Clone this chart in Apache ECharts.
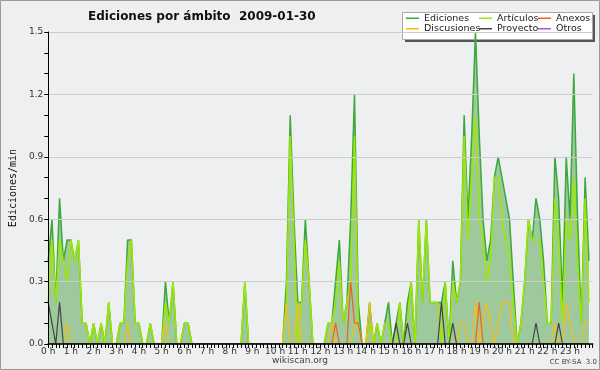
<!DOCTYPE html>
<html>
<head>
<meta charset="utf-8">
<script src="https://cdn.jsdelivr.net/npm/echarts@6/dist/echarts.min.js"></script>
<style>html,body{margin:0;padding:0;background:#eeeff1}#c{width:600px;height:370px}</style>
</head>
<body>
<div id="c"></div>
<script>
// 10-minute slots, 0..143 (00:00 .. 23:50)
const hourLabels = ['0 h','1 h','2 h','3 h','4 h','5 h','6 h','7 h','8 h','9 h','10 h','11 h','12 h','13 h','14 h','15 h','16 h','17 h','18 h','19 h','20 h','21 h','22 h','23 h'];
const yTicks = ['0.0','0.3','0.6','0.9','1.2','1.5'];

const ediciones = [
 0.4,0.6,0.2,0.7,0.4,0.5,0.5,0.4,0.5,0.1,
 0.1,0,0.1,0,0.1,0,0.2,0,0,0.1,
 0.1,0.5,0.5,0.1,0.1,0,0,0.1,0,0,
 0,0.3,0.1,0.3,0,0,0.1,0.1,0,0,
 0,0,0,0,0,0,0,0,0,0,
 0,0,0.3,0,0,0,0,0,0,0,
 0,0,0,0.3,1.1,0.6,0.2,0.2,0.6,0.3,
 0,0,0,0,0.1,0.1,0.3,0.5,0.1,0.2,
 0.6,1.2,0.2,0,0,0.2,0,0.1,0,0.1,
 0.2,0,0.1,0.2,0,0.2,0.3,0,0.6,0.2,
 0.6,0.2,0.2,0.2,0.2,0.3,0,0.4,0.2,0.3,
 1.1,0.6,1.0,1.5,1.0,0.6,0.4,0.5,0.8,0.9,
 0.8,0.7,0.6,0.3,0,0.1,0.3,0.6,0.5,0.7,
 0.6,0.4,0.1,0.1,0.9,0.7,0.2,0.9,0.6,1.3,
 0.6,0.1,0.8,0.4
];
const articulos = [
 0.2,0.5,0.2,0.5,0.4,0.3,0.5,0.4,0.5,0.1,
 0.1,0,0.1,0,0.1,0,0.2,0,0,0.1,
 0.1,0.4,0.5,0.1,0.1,0,0,0.1,0,0,
 0,0.2,0.1,0.3,0,0,0.1,0.1,0,0,
 0,0,0,0,0,0,0,0,0,0,
 0,0,0.3,0,0,0,0,0,0,0,
 0,0,0,0.2,1.0,0.5,0,0.2,0.5,0.3,
 0,0,0,0,0.1,0.1,0.2,0.4,0.1,0.2,
 0.3,1.0,0.1,0,0,0.1,0,0.1,0,0.1,
 0.1,0,0,0.2,0,0.1,0.3,0,0.6,0.2,
 0.6,0.2,0.2,0.2,0,0.3,0,0.3,0.2,0.3,
 1.0,0.5,0.8,1.1,0.6,0.5,0.3,0.4,0.8,0.8,
 0.6,0.5,0.4,0.2,0,0.1,0.3,0.6,0.5,0.5,
 0.5,0.3,0.1,0.1,0.7,0.5,0.1,0.6,0.5,0.8,
 0.4,0.1,0.7,0.2
];
const discusiones = [
 0,0,0,0,0,0.1,0,0,0,0,
 0,0,0,0,0,0,0,0,0,0,
 0,0.1,0,0,0,0,0,0,0,0,
 0,0.1,0,0,0,0,0,0,0,0,
 0,0,0,0,0,0,0,0,0,0,
 0,0,0,0,0,0,0,0,0,0,
 0,0,0,0.2,0,0,0.2,0,0,0,
 0,0,0,0,0,0.1,0,0,0,0,
 0,0.1,0.1,0,0,0.2,0,0,0,0,
 0,0,0,0,0,0,0,0,0,0,
 0,0,0,0,0,0,0,0,0,0.1,
 0.1,0,0,0.2,0,0.1,0.2,0.1,0,0.1,
 0.2,0.2,0.2,0,0,0,0,0,0,0,
 0,0,0,0,0.1,0,0,0.2,0.1,0,
 0,0,0.1,0.1
];
const anexos = [
 0,0,0,0,0,0,0,0,0,0,
 0,0,0,0,0,0,0,0,0,0,
 0,0,0,0,0,0,0,0,0,0,
 0,0,0,0,0,0,0,0,0,0,
 0,0,0,0,0,0,0,0,0,0,
 0,0,0,0,0,0,0,0,0,0,
 0,0,0,0,0,0,0,0,0,0,
 0,0,0,0,0,0,0.1,0,0,0,
 0.3,0.1,0.1,0,0,0,0,0,0,0,
 0,0,0,0,0,0,0,0,0,0,
 0,0,0,0,0,0,0,0,0,0,
 0,0,0,0,0.2,0,0,0,0,0,
 0,0,0,0,0,0,0,0,0,0,
 0,0,0,0,0,0,0,0,0,0,
 0,0,0,0
];
const proyecto = [
 0.2,0.1,0,0.2,0,0,0,0,0,0,
 0,0,0,0,0,0,0,0,0,0,
 0,0,0,0,0,0,0,0,0,0,
 0,0,0,0,0,0,0,0,0,0,
 0,0,0,0,0,0,0,0,0,0,
 0,0,0,0,0,0,0,0,0,0,
 0,0,0,0,0,0,0,0,0,0,
 0,0,0,0,0,0,0,0,0,0,
 0,0,0,0,0,0,0,0,0,0,
 0,0,0.1,0,0,0.1,0,0,0,0,
 0,0,0,0,0.2,0,0,0.1,0,0,
 0,0,0,0,0,0,0,0,0,0,
 0,0,0,0,0,0,0,0,0,0.1,
 0,0,0,0,0,0.1,0,0,0,0,
 0,0,0,0
];
const otros = [];

const pairs = arr => arr.map((v, i) => [i, v]);
const FONT = 'DejaVu Sans';

const chart = echarts.init(document.getElementById('c'), null, {renderer: 'canvas'});
function lineSeries(name, data, color, width, z, area) {
  const s = {
    name, type: 'line', data: pairs(data), symbol: 'none', showSymbol: false,
    lineStyle: {color, width}, itemStyle: {color}, z, animation: false
  };
  if (area) s.areaStyle = {color: area, opacity: 1};
  return s;
}
const legendBase = {
  orient: 'vertical', top: 13, padding: 0, itemGap: 0, itemWidth: 13, itemHeight: 1.5,
  icon: 'rect', selectedMode: false,
  textStyle: {fontFamily: FONT, fontSize: 9.5, color: '#222', lineHeight: 10.5}
};
chart.setOption({
  backgroundColor: '#eeeff1',
  animation: false,
  title: {
    text: 'Ediciones por ámbito  2009-01-30', left: 83, top: 6,
    textStyle: {fontFamily: FONT, fontSize: 12, fontWeight: 'bold', color: '#111'}
  },
  legend: [
    Object.assign({}, legendBase, {left: 406, data: ['Ediciones', 'Discusiones']}),
    Object.assign({}, legendBase, {left: 479, data: ['Artículos', 'Proyecto']}),
    Object.assign({}, legendBase, {left: 538, data: ['Anexos', 'Otros']})
  ],
  grid: {left: 45.5, right: 7.3, top: 32, bottom: 26, containLabel: false},
  xAxis: {
    type: 'value', min: 0, max: 144, interval: 6, z: 10,
    axisLine: {show: true, lineStyle: {color: '#000', width: 1.5}},
    axisTick: {show: true, length: 4, lineStyle: {color: '#000'}},
    minorTick: {show: true, splitNumber: 6, length: 4, lineStyle: {color: '#000'}},
    splitLine: {show: false},
    axisLabel: {
      fontFamily: FONT, fontSize: 9, color: '#333', margin: 3,
      formatter: v => (v < 144 ? hourLabels[v / 6] : '')
    }
  },
  yAxis: {
    type: 'value', min: 0, max: 1.5, interval: 0.3, z: 10,
    name: 'Ediciones/min', nameLocation: 'middle', nameGap: 30, nameRotate: 90,
    nameTextStyle: {fontFamily: 'DejaVu Sans Mono', fontSize: 10, color: '#111'},
    axisLine: {show: true, lineStyle: {color: '#000', width: 1}},
    axisTick: {show: true, length: 4, lineStyle: {color: '#000'}},
    minorTick: {show: true, splitNumber: 3, length: 4, lineStyle: {color: '#000'}},
    splitLine: {show: true, lineStyle: {color: '#cccccc', width: 1}},
    axisLabel: {
      fontFamily: FONT, fontSize: 9, color: '#333', margin: 5,
      formatter: v => yTicks[Math.round(v / 0.3)]
    }
  },
  graphic: [
    {type: 'rect', z: 0, shape: {x: 0.5, y: 0.5, width: 599, height: 369},
     style: {fill: 'none', stroke: '#9a9a9a', lineWidth: 1}},
    {type: 'rect', z: 1, shape: {x: 405, y: 15, width: 190, height: 27}, style: {fill: '#555'}},
    {type: 'rect', z: 2, shape: {x: 402.5, y: 12.5, width: 190, height: 27},
     style: {fill: '#ffffff', stroke: '#aaaaaa', lineWidth: 1}},
    {type: 'text', z: 5, x: 300, y: 356,
     style: {text: 'wikiscan.org', font: '9px "DejaVu Sans"', fill: '#444', textAlign: 'center'}},
    {type: 'text', z: 5, x: 597, y: 359,
     style: {text: 'CC BY-SA  3.0', font: '7px "DejaVu Sans"', fill: '#444', textAlign: 'right'}}
  ],
  series: [
    lineSeries('Ediciones', ediciones, '#3aa83a', 1.5, 2, '#9dc99d'),
    lineSeries('Artículos', articulos, '#9ee800', 1.5, 3),
    lineSeries('Discusiones', discusiones, '#f5bf10', 1.2, 4),
    lineSeries('Anexos', anexos, '#f06020', 1.2, 5),
    lineSeries('Proyecto', proyecto, '#444444', 1.2, 6),
    lineSeries('Otros', otros, '#9955ee', 1.2, 7)
  ]
});
</script>
</body>
</html>
